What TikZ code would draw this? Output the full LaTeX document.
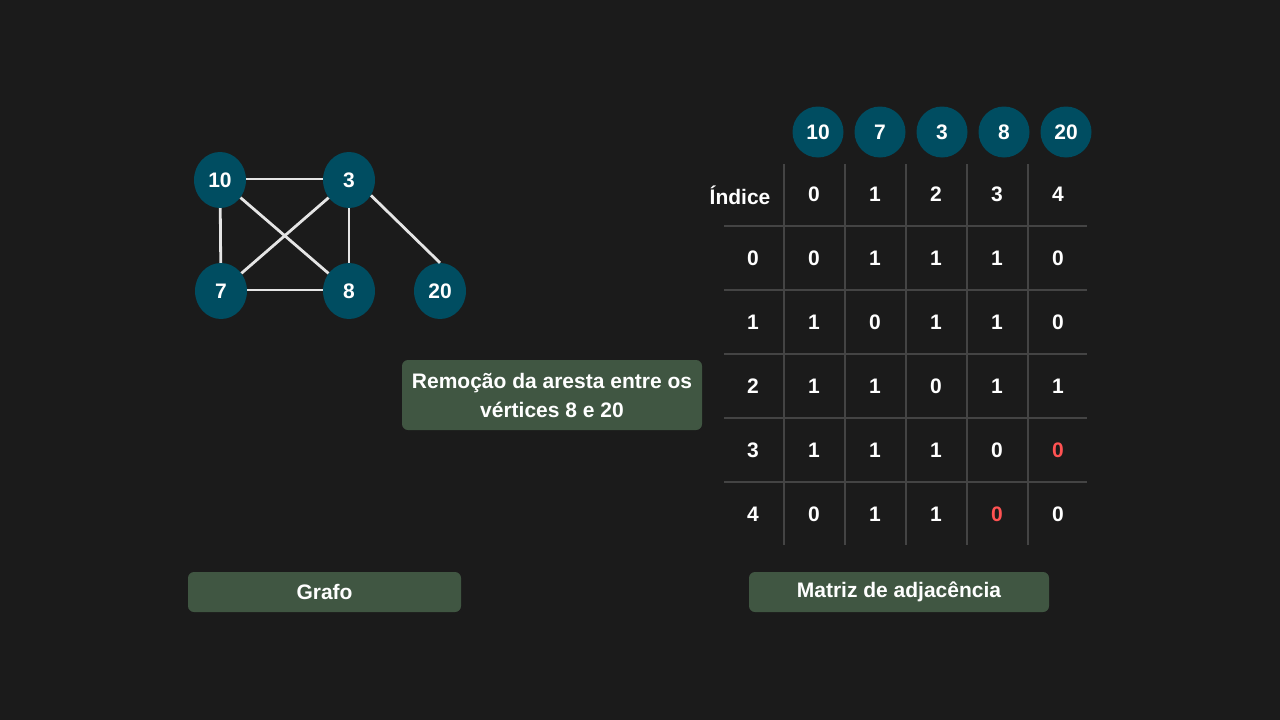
\documentclass[tikz,border=0pt]{standalone}
\usepackage{fontspec}
\setmainfont{Liberation Sans}
\usetikzlibrary{positioning, shapes.geometric}
\definecolor{bg}{RGB}{27,27,27}
\definecolor{teal}{RGB}{0,77,97}
\definecolor{boxgreen}{RGB}{64,86,66}
\definecolor{gridgray}{RGB}{68,68,68}
\definecolor{lost}{RGB}{255,82,82}

\begin{document}
\begin{tikzpicture}[x=1pt, y=-1pt,
    every node/.style={text=white, font=\bfseries\fontsize{21}{26}\selectfont},
    vertex/.style={ellipse, fill=teal, minimum width=52pt, minimum height=56pt, inner sep=0pt},
    hdr/.style={circle, fill=teal, minimum size=51pt, inner sep=0pt},
    edge/.style={draw=white!90!black, line width=2.8pt},
    gridline/.style={draw=gridgray, line width=2pt},
    tag/.style={fill=boxgreen, rounded corners=6pt, align=center, inner sep=0pt}]
    \fill[bg] (0,0) rectangle (1280,720);
    \useasboundingbox (0,0) rectangle (1280,720);

    % graph
    \foreach \position / \label in {(220,180)/10, (349,180)/3, (221,291)/7, (349,291)/8, (440,291)/20}
        \node (v\label) at \position [vertex] {\label};

    \draw [edge] (v10.2) -- (v3.178);
    \draw [edge] (v10) -- (v7);
    \draw [edge] (v10) -- (v8);
    \draw [edge] (v3) -- (v7);
    \draw [edge] (v3) -- (v8);
    \draw [edge] (v7.2) -- (v8.178);
    \draw [edge] (v3.-35) -- (v20.north);

    % adjacency matrix
    \foreach \label [count=\i from 0] in {10,7,3,8,20}
        \node (h\i) at (818+62*\i,132) [hdr] {\label};

    \foreach \x in {784,845,906,967,1028}
        \draw [gridline] (\x,164) -- (\x,545);
    \foreach \y in {226,290,354,418,482}
        \draw [gridline] (724,\y) -- (1087,\y);

    \node (idx) at (740,195) {Índice};
    \foreach \i in {0,...,4}
        \node (c\i) at (814+61*\i,194) {\i};

    \foreach \r / \vals in {0/{0,1,1,1,0}, 1/{1,0,1,1,0}, 2/{1,1,0,1,1},
                            3/{1,1,1,0,\textcolor{lost}{0}}, 4/{0,1,1,\textcolor{lost}{0},0}} {
        \node (r\r) at (753,258+64*\r) {\r};
        \foreach \v [count=\c from 0] in \vals
            \node (m\r\c) at (814+61*\c,258+64*\r) {\v};
    }

    % captions
    \node (note) at (552,395) [tag, minimum width=300pt, minimum height=70pt,
        font=\bfseries\fontsize{21}{29}\selectfont] {Remoção da aresta entre os\\vértices 8 e 20};
    \node (grafo) at (324.5,592) [tag, minimum width=273pt, minimum height=40pt] {Grafo};
    \node (matriz) at (899,592) [tag, minimum width=300pt, minimum height=40pt] {Matriz de adjacência};
\end{tikzpicture}
\end{document}
